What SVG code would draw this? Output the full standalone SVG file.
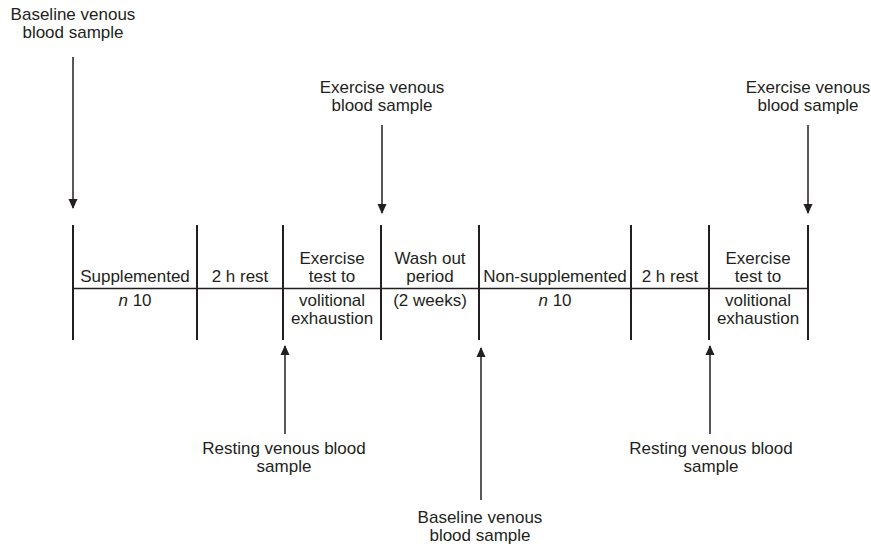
<svg xmlns="http://www.w3.org/2000/svg" width="871" height="550" viewBox="0 0 871 550">
<defs>
<marker id="ah" markerWidth="10" markerHeight="10" refX="9" refY="5" orient="auto" markerUnits="userSpaceOnUse" viewBox="0 0 10 10">
<path d="M0,0.5 L10,5 L0,9.5 Z" fill="#231f20"/>
</marker>
</defs>
<style>
text{font-family:"Liberation Sans",Arial,Helvetica,sans-serif;font-size:17px;fill:#231f20;text-anchor:middle}
.div{stroke:#231f20;stroke-width:2}
.axis{stroke:#231f20;stroke-width:1.5}
.arr{stroke:#231f20;stroke-width:1.5;fill:none;marker-end:url(#ah)}
</style>
<rect width="871" height="550" fill="#fff"/>
<g id="timeline">
<line class="axis" x1="73" y1="288.5" x2="808" y2="288.5"/>
<line class="div" x1="73" y1="225" x2="73" y2="340"/>
<line class="div" x1="197" y1="225" x2="197" y2="340"/>
<line class="div" x1="283" y1="225" x2="283" y2="340"/>
<line class="div" x1="381" y1="225" x2="381" y2="340"/>
<line class="div" x1="479" y1="225" x2="479" y2="340"/>
<line class="div" x1="631" y1="225" x2="631" y2="340"/>
<line class="div" x1="709" y1="225" x2="709" y2="340"/>
<line class="div" x1="808" y1="225" x2="808" y2="340"/>
</g>
<g id="supplemented">
<text x="135" y="282">Supplemented</text>
<text x="135" y="306"><tspan font-style="italic">n</tspan> 10</text>
</g>
<g id="rest1"><text x="240" y="282">2 h rest</text></g>
<g id="exercise1">
<text x="332" y="264">Exercise</text>
<text x="332" y="282">test to</text>
<text x="332" y="306">volitional</text>
<text x="332" y="324">exhaustion</text>
</g>
<g id="washout">
<text x="430" y="264">Wash out</text>
<text x="430" y="282">period</text>
<text x="430" y="306">(2 weeks)</text>
</g>
<g id="nonsupplemented">
<text x="555" y="282">Non-supplemented</text>
<text x="555" y="306"><tspan font-style="italic">n</tspan> 10</text>
</g>
<g id="rest2"><text x="670" y="282">2 h rest</text></g>
<g id="exercise2">
<text x="758" y="264">Exercise</text>
<text x="758" y="282">test to</text>
<text x="758" y="306">volitional</text>
<text x="758" y="324">exhaustion</text>
</g>
<g id="label-baseline1">
<text x="73" y="20">Baseline venous</text>
<text x="73" y="38">blood sample</text>
</g>
<g id="label-exercise1">
<text x="382" y="93">Exercise venous</text>
<text x="382" y="111">blood sample</text>
</g>
<g id="label-exercise2">
<text x="808" y="93">Exercise venous</text>
<text x="808" y="111">blood sample</text>
</g>
<g id="label-resting1">
<text x="284" y="454">Resting venous blood</text>
<text x="284" y="472">sample</text>
</g>
<g id="label-baseline2">
<text x="480" y="523">Baseline venous</text>
<text x="480" y="541">blood sample</text>
</g>
<g id="label-resting2">
<text x="711" y="454">Resting venous blood</text>
<text x="711" y="472">sample</text>
</g>
<g id="connectors">
<line class="arr" x1="73" y1="57" x2="73" y2="208"/>
<line class="arr" x1="382" y1="125" x2="382" y2="213"/>
<line class="arr" x1="808" y1="125" x2="808" y2="213"/>
<line class="arr" x1="285" y1="434" x2="285" y2="346"/>
<line class="arr" x1="481" y1="500" x2="481" y2="348"/>
<line class="arr" x1="710" y1="434" x2="710" y2="346"/>
</g>
</svg>
